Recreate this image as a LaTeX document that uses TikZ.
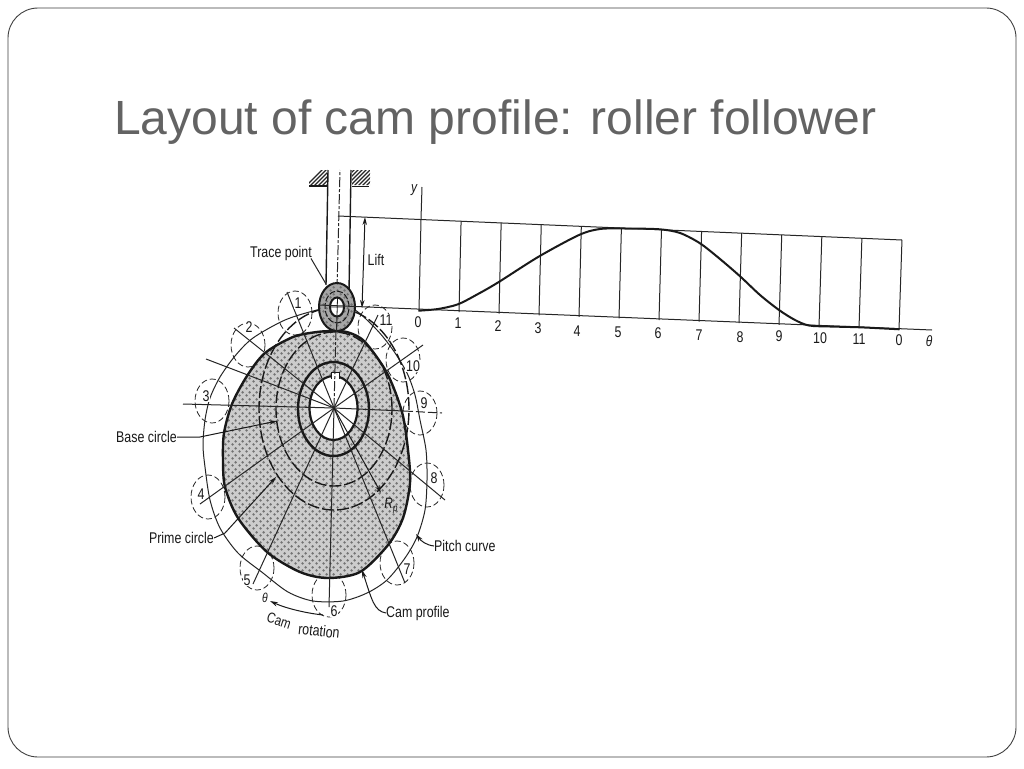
\documentclass[tikz,border=0pt]{standalone}
\usepackage{fontspec}
\usetikzlibrary{patterns,arrows.meta,calc}
\setmainfont{Liberation Sans}
\newfontfamily\titlefont[Ligatures=NoCommon]{Liberation Sans}
\newfontfamily\labfont[FakeStretch=0.80]{Liberation Sans}
\definecolor{titlegray}{HTML}{636363}
\definecolor{framegray}{HTML}{404040}
\pgfdeclarepatternformonly{camstip}{\pgfpointorigin}{\pgfqpoint{7pt}{7pt}}{\pgfqpoint{7pt}{7pt}}{
  \pgfpathcircle{\pgfqpoint{1.75pt}{1.75pt}}{1.5pt}
  \pgfpathcircle{\pgfqpoint{5.25pt}{5.25pt}}{1.5pt}
  \pgfusepath{fill}}
\def\camshape{plot[smooth cycle,tension=0.5] coordinates {
 (337,331) (317,332) (293,337) (265,353) (247,376) (232,404) (224,433) (223,460) (225,487) (238,518) (267,552) (300,572)
 (328,578) (360,572) (388,545) (403,518) (410,483) (408,450) (402,412) (387,373) (365,342) (350,333)}}
\tikzset{
  lab/.style={inner sep=0pt,font=\labfont\fontsize{15.5}{15.5}\selectfont,text=black!90},
  ital/.style={inner sep=0pt,font=\labfont\itshape\fontsize{15}{15}\selectfont,text=black!90},
  thinline/.style={line width=1pt,black!85},
  medline/.style={line width=1.4pt,black!90},
  heavyline/.style={line width=2.4pt,black!90},
  rollerpos/.style={line width=0.8pt,black!85,dash pattern=on 6pt off 3pt},
  stipple/.style={pattern=camstip,pattern color=black!55},
  tip/.style={-{Stealth[length=8pt,width=4.5pt]},line width=1pt,black!90},
}
\begin{document}
\begin{tikzpicture}[x=1pt,y=-1pt]
\useasboundingbox (0,0) rectangle (1024,768);
\fill[white] (0,0) rectangle (1024,768);
\draw[framegray,line width=0.9pt,rounded corners=30pt] (8,8) rectangle (1016,757);
\node[anchor=base west,inner sep=0pt,text=titlegray,font=\titlefont\fontsize{48}{48}\selectfont] (title) at (114,134) {Layout of cam profile: roller follower};

% roller positions
\foreach \x/\y in {295/313,248/345,212/401,208/497,257/568,329/595,397/563,427/485,420/413,403/360,375/327}
  \draw[rollerpos] (\x,\y) ellipse [x radius=17pt,y radius=22pt];

% pitch curve
\draw[thinline] plot[smooth cycle,tension=0.5] coordinates {
 (337,307) (317,310) (285,320) (253,338) (235,356) (220,377) (210,398) (205,420) (203,445) (205,467) (210,500) (220,528) (238,553) (263,573)
 (288,592) (313,601) (343,601) (367,593) (387,580) (405,558) (417,537) (425,510) (427,480) (426,450) (420,420) (415,395) (407,373) (393,350) (377,330) (355,310)};

% cam
\path[fill=black!20] \camshape;
\path[stipple] \camshape;
\draw[heavyline] \camshape;

% prime and base circle
\draw[line width=1.4pt,black!90,dash pattern=on 12pt off 3pt] (334,409) ellipse [x radius=75pt,y radius=101pt];
\draw[line width=1.4pt,black!90,dash pattern=on 12pt off 3pt] (334,409) ellipse [x radius=58pt,y radius=77pt];

% hub
\draw[line width=2.4pt,black!90] (333.5,409) ellipse [x radius=35.5pt,y radius=47pt];
\draw[line width=2.2pt,black!90,fill=white] (333.5,408) ellipse [x radius=24pt,y radius=32pt];
\draw[line width=1pt,black!90,fill=white] (331,379) -- (331,372.5) -- (339,372.5) -- (339,379);

% rays
\coordinate (c) at (334,408);
\foreach \x/\y in {287/292,234/328,206/359,183/404,200/504,253/584,329/607,405/583,445/500,423/345,378/315}
  \draw[thinline] (c) -- (\x,\y);
\draw[thinline] (c) -- (404,411);
\draw[thinline,dash pattern=on 9pt off 3pt] (404,411) -- (442,413);
\draw[thinline,dash pattern=on 10pt off 2pt on 3pt off 2pt] (c) -- (340,170);

% follower
\draw[medline] (328,170) -- (326,285);
\draw[medline] (351,170) -- (349,292);
\begin{scope}
  \clip (309,170) rectangle (327,185) (352,170) rectangle (370,185);
  \foreach \k in {0,4,...,76}
    \draw[line width=1.1pt,black!85] (305+\k,187) -- (325+\k,167);
\end{scope}
\draw[medline] (309,186) -- (328,186);
\draw[medline] (352,186.5) -- (369,186.5);

% roller
\path[fill=black!35] (337,307) ellipse [x radius=18pt,y radius=24pt];
\path[stipple] (337,307) ellipse [x radius=18pt,y radius=24pt];
\draw[line width=2pt,black!90] (337,307) ellipse [x radius=18pt,y radius=24pt];
\draw[line width=1pt,black!90,dash pattern=on 6pt off 2pt] (337,307) ellipse [x radius=12pt,y radius=16pt];
\draw[line width=2pt,black!90,fill=white] (337,307) ellipse [x radius=7pt,y radius=9.5pt];
\draw[line width=0.8pt,black!90] (330,307) -- (344,307) (337.5,298) -- (337,316);
\draw[thinline] (337,316) -- (336.5,332);

% graph
\draw[thinline] (338,216) -- (902,240);
\draw[thinline] (319,305) -- (932,330);
\draw[thinline] (422,187) -- (421,219);
\foreach \i in {0,...,12} {
  \pgfmathsetmacro{\xt}{421+\i*40.08}
  \pgfmathsetmacro{\yt}{219.5+\i*1.708}
  \pgfmathsetmacro{\xb}{419+\i*40}
  \pgfmathsetmacro{\yb}{310.5+\i*1.583}
  \coordinate (tt\i) at (\xt,\yt);
  \coordinate (tb\i) at (\xb,\yb);
  \draw[thinline] (tt\i) -- (tb\i);
}
\draw[line width=2pt,black!90] plot[smooth,tension=0.5] coordinates {
 (418.3,310.7) (438,309) (457.9,304.3) (478,294) (498.3,282.3) (538.6,256.7) (579,235) (600,229) (625,228.5) (659.7,229.3)
 (680,233) (700,243.3) (720,259) (740.5,276.7) (760,295) (779,310) (795,320) (809,325.5) (830,326.5) (860,327.3) (899.5,329.3)};

\foreach \n/\t/\x/\y in {a/0/418/322,b/1/458/323,c/2/498/326,d/3/538/328,e/4/577/331,f/5/618/332,g/6/658/333,h/7/699/335,i/8/740/337,j/9/779/336,k/10/820/338,l/11/859/339,m/0/899/340}
  \node[lab] (g\n) at (\x,\y) {\t};
\node[ital] (gtheta) at (929,341) {θ};
\node[ital] (gy) at (414,190) {y};

% lift
\draw[{Stealth[length=8pt,width=4.5pt]}-{Stealth[length=8pt,width=4.5pt]},line width=1pt,black!90] (365,217) -- (362,308);
\node[lab] (lift) at (376,260) {Lift};
\node[lab] (trace) at (281,253) {Trace point};
\coordinate (tracept) at (326,284);
\draw[thinline] (trace.south east) ++(-1,-2) -- (tracept);

% position numbers
\foreach \n/\t/\x/\y in {a/1/298/303,b/2/249/327,c/3/206/396,d/4/201/494,e/5/247/580,f/6/334/611,g/7/407/569,h/8/434/478,i/9/424/403,j/10/413/366,k/11/386/320}
  \node[lab,fill=white,inner sep=1pt] (p\n) at (\x,\y) {\t};

% callouts
\node[lab,anchor=east] (base) at (177,437) {Base circle};
\coordinate (basetip) at (277,421);
\draw[tip] (base.east) -- (200,437) -- (basetip);
\node[lab,anchor=east] (prime) at (214,538) {Prime circle};
\coordinate (primetip) at (276,477);
\draw[tip] (prime.east) -- (225,533) -- (primetip);
\coordinate (rptip) at (381,493);
\draw[tip] (c) -- (rptip);
\node[ital] (rp) at (391,506) {R\raisebox{-3pt}{\fontsize{10}{10}\selectfont p}};
\node[lab,anchor=west] (pitch) at (434,546) {Pitch curve};
\coordinate (pitchtip) at (416,534);
\draw[tip] (pitch.west) .. controls (426,545) and (421,541) .. (pitchtip);
\node[lab,anchor=west] (profile) at (386,613) {Cam profile};
\coordinate (profiletip) at (362,570);
\draw[tip] (profile.west) .. controls (374,611) and (372,600) .. (profiletip);

% rotation
\node[ital,font=\labfont\itshape\fontsize{13}{13}\selectfont] (th) at (265,598) {θ};
\coordinate (rota) at (323,615);
\coordinate (rotb) at (270,601);
\draw[tip] (rota) .. controls (305,613) and (285,608) .. (rotb);
\node[lab,rotate=-18,font=\labfont\fontsize{14.5}{14.5}\selectfont] (cam) at (279,621) {Cam};
\node[lab,rotate=-6] (rotation) at (319,631) {rotation};
\end{tikzpicture}
\end{document}
